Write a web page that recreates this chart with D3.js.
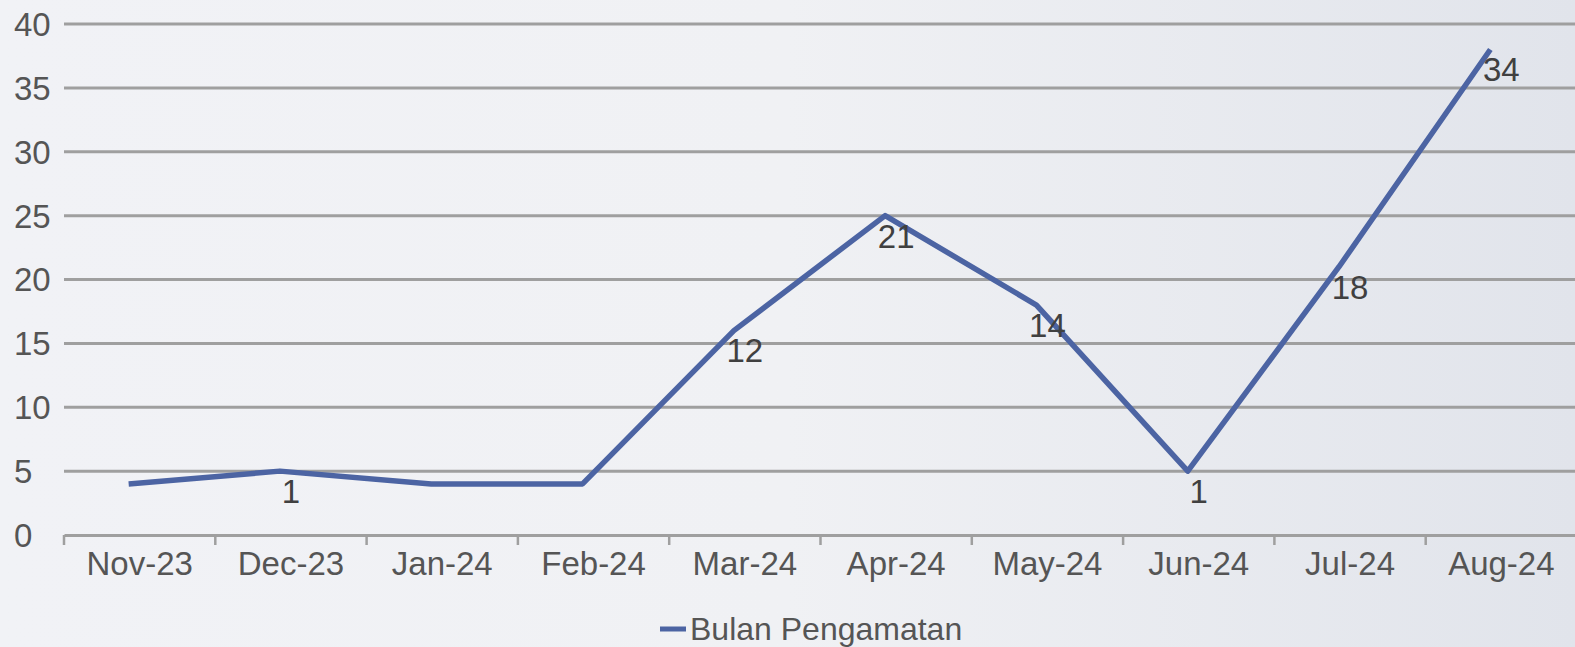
<!DOCTYPE html>
<html><head><meta charset="utf-8">
<script src="https://cdn.jsdelivr.net/npm/d3@7"></script>
<style>
html,body{margin:0;padding:0;overflow:hidden;}
body{width:1575px;height:647px;}
svg{display:block;font-family:"Liberation Sans",Arial,sans-serif;}
</style></head>
<body>
<svg id="chart" width="1575" height="647"></svg>
<script>
const categories = ["Nov-23","Dec-23","Jan-24","Feb-24","Mar-24","Apr-24","May-24","Jun-24","Jul-24","Aug-24"];
const values = [4, 5, 4, 4, 16, 25, 18, 5, 21, 38];
const dataLabels = [null, "1", null, null, "12", "21", "14", "1", "18", "34"];
const yTicks = [0, 5, 10, 15, 20, 25, 30, 35, 40];
const seriesName = "Bulan Pengamatan";

const W = 1575, H = 647;
const svg = d3.select("#chart");

// background
const defs = svg.append("defs");
const grad = defs.append("linearGradient").attr("id","bg").attr("x1","0").attr("x2","1").attr("y1","0").attr("y2","0");
grad.append("stop").attr("offset","0").attr("stop-color","#f1f2f6");
grad.append("stop").attr("offset","0.5").attr("stop-color","#f0f1f4");
grad.append("stop").attr("offset","1").attr("stop-color","#e1e4eb");
svg.append("rect").attr("width",W).attr("height",H).attr("fill","url(#bg)");

const x = d3.scaleBand().domain(categories).range([64, 1577]).padding(0);
const y = d3.scaleLinear().domain([0, 40]).range([535, 24]);

// gridlines
svg.append("g").selectAll("line").data(yTicks.filter(d => d > 0)).join("line")
  .attr("x1", 64).attr("x2", W)
  .attr("y1", d => y(d)).attr("y2", d => y(d))
  .attr("stroke", "#9f9f9f").attr("stroke-width", 3);

// y tick labels
svg.append("g").selectAll("text").data(yTicks).join("text")
  .attr("x", 14).attr("y", d => y(d)).attr("dy", "0.36em")
  .attr("font-size", 33).attr("fill", "#555555")
  .text(d => d);

// x axis
const xAxis = d3.axisBottom(x).tickSize(0).tickPadding(18);
const gx = svg.append("g").attr("transform", `translate(0,${y(0)})`).call(xAxis);
gx.select(".domain").attr("stroke", "#9f9f9f").attr("stroke-width", 3);
gx.selectAll(".tick text").attr("font-size", 33).attr("fill", "#555555")
  .attr("font-family", '"Liberation Sans",Arial,sans-serif').attr("dy","0.68em");
// boundary tick marks
const bounds = categories.map(c => x(c));
gx.append("g").selectAll("line").data(bounds).join("line")
  .attr("x1", d => d).attr("x2", d => d).attr("y1", 0).attr("y2", 10)
  .attr("stroke", "#9f9f9f").attr("stroke-width", 2.5);

// line
const line = d3.line()
  .x((d, i) => x(categories[i]) + x.bandwidth() / 2)
  .y(d => y(d));
svg.append("path").datum(values)
  .attr("transform", "translate(-11,0)")
  .attr("d", line)
  .attr("fill", "none").attr("stroke", "#4c64a3").attr("stroke-width", 5.5)
  .attr("stroke-linejoin", "round");

// data labels
svg.append("g").selectAll("text").data(values.map((v, i) => ({v, i, t: dataLabels[i]})).filter(d => d.t))
  .join("text")
  .attr("x", d => x(categories[d.i]) + x.bandwidth() / 2)
  .attr("y", d => y(d.v) + 20).attr("dy", "0.36em")
  .attr("text-anchor", "middle")
  .attr("font-size", 33).attr("fill", "#404040")
  .text(d => d.t);

// legend
const lg = svg.append("g");
lg.append("line").attr("x1", 660).attr("x2", 686).attr("y1", 629).attr("y2", 629)
  .attr("stroke", "#4c64a3").attr("stroke-width", 5);
lg.append("text").attr("x", 690).attr("y", 640)
  .attr("font-size", 32).attr("fill", "#555555").text(seriesName);
</script>
</body></html>
